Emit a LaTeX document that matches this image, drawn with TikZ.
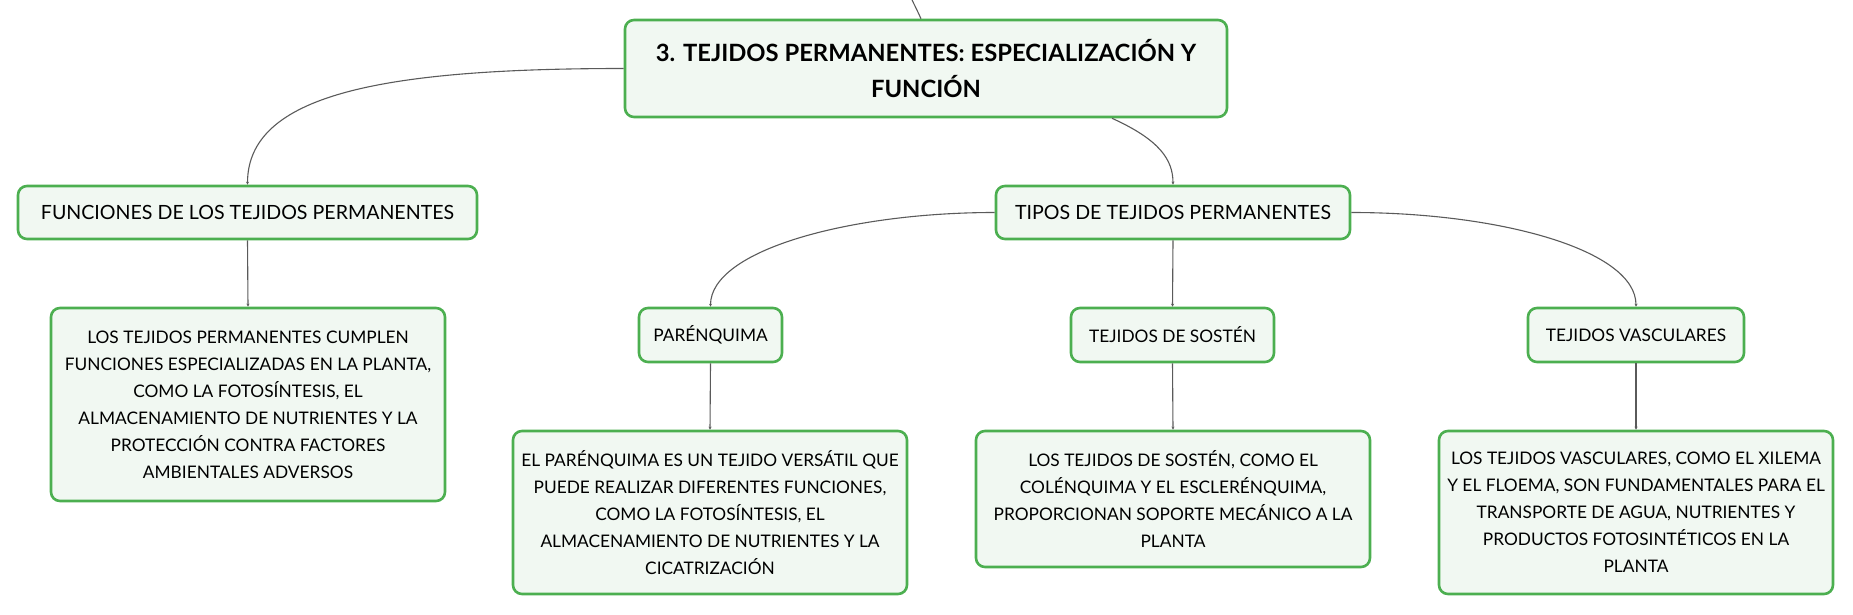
\documentclass[tikz,border=0pt]{standalone}
\usepackage{fontspec}
\setmainfont{Lato}
\usetikzlibrary{arrows.meta,calc}
\definecolor{boxgreen}{HTML}{4CAF50}
\definecolor{boxfill}{HTML}{F1F8F2}
\definecolor{linkgray}{HTML}{5A5A5A}
\begin{document}
\begin{tikzpicture}[x=1pt,y=-1pt,
  mbox/.style={draw=boxgreen, fill=boxfill, line width=2.6pt, rounded corners=9pt,
     align=center, inner sep=0pt, font=\fontsize{19.6}{27}\selectfont},
  detbox/.style={mbox, font=\fontsize{17.3}{27}\selectfont},
  titlebox/.style={mbox, font=\fontsize{23.8}{36}\selectfont\bfseries},
  link/.style={draw=linkgray, line width=1.1pt},
  tiplink/.style={link, -{Stealth[length=3pt,width=3pt]}}
]
\useasboundingbox (0,0) rectangle (1853,615);

\node[titlebox, minimum width=602pt, minimum height=97pt] (main) at (926,68.5)
  {3. TEJIDOS PERMANENTES: ESPECIALIZACIÓN Y\\FUNCIÓN};
\coordinate (top) at (912,0);

\node[mbox, minimum width=459pt, minimum height=53pt] (func) at (247.5,212.5)
  {FUNCIONES DE LOS TEJIDOS PERMANENTES};
\node[mbox, minimum width=354pt, minimum height=53pt] (tipos) at (1173,212.5)
  {TIPOS DE TEJIDOS PERMANENTES};

\node[detbox, minimum width=394pt, minimum height=193pt] (funcdet) at (248,404.5)
  {LOS TEJIDOS PERMANENTES CUMPLEN\\FUNCIONES ESPECIALIZADAS EN LA PLANTA,\\COMO LA FOTOSÍNTESIS, EL\\ALMACENAMIENTO DE NUTRIENTES Y LA\\PROTECCIÓN CONTRA FACTORES\\AMBIENTALES ADVERSOS};

\node[detbox, minimum width=143pt, minimum height=54pt] (paren) at (710.5,335)
  {PARÉNQUIMA};
\node[detbox, minimum width=203pt, minimum height=54pt] (sosten) at (1172.5,335)
  {TEJIDOS DE SOSTÉN};
\node[detbox, minimum width=216pt, minimum height=54pt] (vasc) at (1636,335)
  {TEJIDOS VASCULARES};

\node[detbox, minimum width=394pt, minimum height=163pt] (parendet) at (710,512.5)
  {EL PARÉNQUIMA ES UN TEJIDO VERSÁTIL QUE\\PUEDE REALIZAR DIFERENTES FUNCIONES,\\COMO LA FOTOSÍNTESIS, EL\\ALMACENAMIENTO DE NUTRIENTES Y LA\\CICATRIZACIÓN};
\node[detbox, minimum width=394pt, minimum height=136pt] (sostendet) at (1173,499)
  {LOS TEJIDOS DE SOSTÉN, COMO EL\\COLÉNQUIMA Y EL ESCLERÉNQUIMA,\\PROPORCIONAN SOPORTE MECÁNICO A LA\\PLANTA};
\node[detbox, minimum width=394pt, minimum height=163pt] (vascdet) at (1636,512.5)
  {LOS TEJIDOS VASCULARES, COMO EL XILEMA\\Y EL FLOEMA, SON FUNDAMENTALES PARA EL\\TRANSPORTE DE AGUA, NUTRIENTES Y\\PRODUCTOS FOTOSINTÉTICOS EN LA\\PLANTA};

% connectors
\draw[link] (top) .. controls (916,8) .. ([xshift=-5pt]main.north);
\draw[tiplink] (main.west) .. controls (380,68.5) and (247.5,95) .. (func.north);
\draw[tiplink] ([xshift=186pt]main.south) .. controls (1160,140) and (1173,160) .. (tipos.north);
\draw[tiplink] (func.south) -- (funcdet.north);
\draw[tiplink] (tipos.west) .. controls (850,212.5) and (710.5,250) .. (paren.north);
\draw[tiplink] (tipos.south) -- (sosten.north);
\draw[tiplink] (tipos.east) .. controls (1500,212.5) and (1636,250) .. (vasc.north);
\draw[tiplink] (paren.south) -- (parendet.north);
\draw[tiplink] (sosten.south) -- (sostendet.north);
\draw[tiplink] (vasc.south) -- (vascdet.north);
\end{tikzpicture}
\end{document}
